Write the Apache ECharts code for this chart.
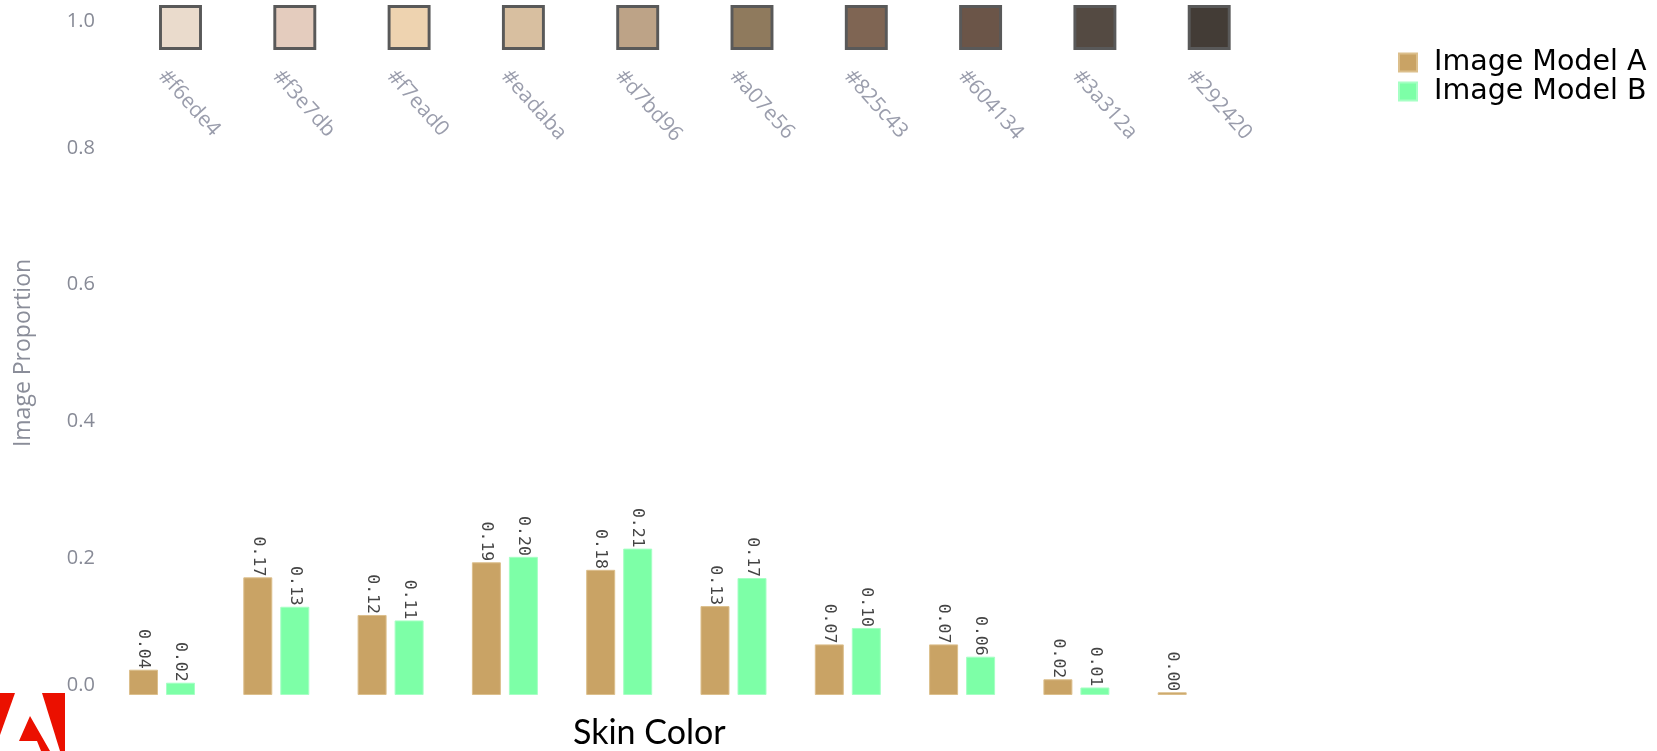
<!DOCTYPE html>
<html>
<head>
<meta charset="utf-8">
<script src="https://cdn.jsdelivr.net/npm/echarts@6/dist/echarts.min.js"></script>
<style>
  html, body { margin: 0; padding: 0; background: #ffffff; }
  #chart { width: 1657px; height: 751px; }
</style>
</head>
<body>
<div id="chart"></div>
<script>
// ---- data ----
const categories = ['#f6ede4', '#f3e7db', '#f7ead0', '#eadaba', '#d7bd96', '#a07e56', '#825c43', '#604134', '#3a312a', '#292420'];
const modelA = [0.037, 0.172, 0.117, 0.194, 0.183, 0.130, 0.074, 0.074, 0.023, 0.004];
const modelB = [0.018, 0.129, 0.109, 0.202, 0.214, 0.171, 0.098, 0.056, 0.011, null];
const seriesNames = ['Image Model A', 'Image Model B'];
const swatchFill = ['#eadbcc', '#e4ccbe', '#eed3b0', '#d8bfa0', '#bda387', '#8f7a5d', '#7f6553', '#6b5548', '#544a42', '#433c36'];
const swatchLevel = 1.0;

const chart = echarts.init(document.getElementById('chart'), null, { renderer: 'canvas' });

const valueLabel = {
  show: true,
  position: 'top',
  distance: 1,
  rotate: -90,
  align: 'right',
  verticalAlign: 'middle',
  fontFamily: 'DejaVu Sans Mono',
  fontSize: 16.5,
  color: '#444444',
  formatter: p => (p.value == null ? '' : p.value.toFixed(2))
};

const option = {
  animation: false,
  backgroundColor: '#ffffff',
  grid: { left: 104.85, right: 409.15, top: 11, bottom: 56, containLabel: false },
  legend: {
    data: seriesNames,
    orient: 'vertical',
    left: 1398,
    top: 48,
    padding: 0,
    icon: 'rect',
    itemWidth: 18,
    itemHeight: 18,
    itemGap: 0,
    textStyle: {
      fontFamily: 'DejaVu Sans',
      fontSize: 28.5,
      lineHeight: 27,
      color: '#000000',
      padding: [0, 0, 0, 12]
    }
  },
  xAxis: {
    type: 'category',
    data: categories,
    axisLine: { show: false },
    axisTick: { show: false },
    axisLabel: { show: false },
    splitLine: { show: false }
  },
  yAxis: {
    type: 'value',
    min: 0,
    max: 1,
    interval: 0.2,
    name: 'Image Proportion',
    nameLocation: 'middle',
    nameGap: 70,
    nameTextStyle: { fontFamily: 'Open Sans', fontSize: 23, color: '#8a8d99' },
    axisLine: { show: false },
    axisTick: { show: false },
    splitLine: { show: false },
    axisLabel: {
      margin: 10,
      fontFamily: 'Open Sans',
      fontSize: 20,
      color: '#878a96',
      verticalAlignMinLabel: 'bottom',
      verticalAlignMaxLabel: 'top',
      formatter: v => v.toFixed(1)
    }
  },
  series: [
    {
      name: seriesNames[0],
      type: 'bar',
      data: modelA,
      barWidth: 29,
      barGap: '27.6%',
      itemStyle: { color: '#c9a365', borderColor: '#dcbf8c', borderWidth: 1 },
      label: valueLabel
    },
    {
      name: seriesNames[1],
      type: 'bar',
      data: modelB,
      barWidth: 29,
      itemStyle: { color: '#7dffa7', borderColor: '#a6ffc4', borderWidth: 1 },
      label: valueLabel
    },
    {
      name: 'swatches',
      type: 'scatter',
      silent: true,
      symbol: 'rect',
      symbolSize: [40, 42],
      symbolOffset: [18.5, 16.5],
      data: categories.map((c, i) => ({
        name: c,
        value: [i, swatchLevel],
        itemStyle: { color: swatchFill[i] }
      })),
      itemStyle: { borderColor: '#595959', borderWidth: 3, opacity: 1 },
      label: {
        show: true,
        formatter: '{b}',
        position: [3, 68],
        rotate: -48,
        align: 'left',
        verticalAlign: 'middle',
        fontFamily: 'Open Sans',
        fontSize: 21,
        color: '#9a9dac'
      }
    }
  ],
  graphic: [
    {
      type: 'text',
      left: 648 - 75,
      top: 716,
      style: { text: 'Skin Color', fontFamily: 'Lato', fontSize: 34, fill: '#000000' }
    },
    { type: 'rect', shape: { x: 0, y: 693, width: 65, height: 58 }, style: { fill: '#eb1000' } },
    { type: 'polygon', shape: { points: [[15, 693], [42, 693], [60, 751], [0, 751], [0, 735]] }, style: { fill: '#ffffff' } },
    { type: 'polygon', shape: { points: [[30, 716], [50, 751], [41, 751], [37, 741], [19, 741]] }, style: { fill: '#eb1000' } }
  ]
};

chart.setOption(option);
</script>
</body>
</html>
